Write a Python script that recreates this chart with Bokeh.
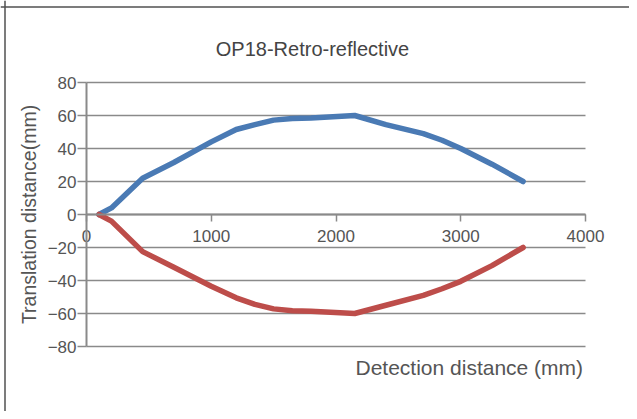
from bokeh.plotting import figure
from bokeh.models import Range1d, Label, FixedTicker, Span
from bokeh.embed import file_html
from bokeh.resources import INLINE

title_text = "OP18-Retro-reflective"
x_title = "Detection distance (mm)"
y_title = "Translation distance(mm)"

x_ticks = [0, 1000, 2000, 3000, 4000]
y_ticks = [-80, -60, -40, -20, 0, 20, 40, 60, 80]

dist = [100, 200, 450, 700, 1000, 1200, 1350, 1500, 1650, 1800, 2150, 2400, 2700, 2850, 3000, 3250, 3500]
upper = [0, 4, 22, 31.5, 44, 51.5, 54.5, 57.2, 58.2, 58.5, 60, 54.5, 49, 45, 40, 30.5, 20]
lower = [0, -4, -22.5, -32, -43.5, -50.5, -54.5, -57.2, -58.3, -58.7, -60, -55, -49, -45, -40.5, -31, -20]

FONT = "Liberation Sans"
TXT = "#555555"
GRID = "#8a8a8a"

# layout (pixels on the canvas)
W, H = 629, 411
OX, OY = 0, 0
PX0, PX1 = 86, 585                 # x = 0 .. 4000
PY_TOP, PY_BOT = 82, 346           # y = 80 .. -80
sx = (PX1 - PX0) / 4000.0
sy = (PY_BOT - PY_TOP) / 160.0
py0 = (PY_TOP + PY_BOT) / 2.0
x0 = (OX - PX0) / sx
x1 = (OX + W - PX0) / sx
y1 = (py0 - OY) / sy
y0 = (py0 - (OY + H)) / sy

p = figure(width=W, height=H, x_range=Range1d(x0, x1), y_range=Range1d(y0, y1),
           output_backend="svg", toolbar_location=None,
           min_border=0, min_border_left=0, min_border_right=0,
           min_border_top=0, min_border_bottom=0)
p.outline_line_color = None
p.background_fill_color = "white"
p.border_fill_color = "white"

p.xgrid.grid_line_color = None
yg = p.ygrid[0]
yg.ticker = FixedTicker(ticks=y_ticks)
yg.grid_line_color = GRID
yg.grid_line_width = 1.5
yg.cross_bounds = (0, 4000)

xa = p.xaxis[0]
xa.fixed_location = 0
xa.bounds = (0, 4000)
xa.ticker = FixedTicker(ticks=x_ticks)
xa.axis_line_color = GRID
xa.axis_line_width = 2
xa.major_tick_line_color = GRID
xa.major_tick_line_width = 1.5
xa.major_tick_in = 0
xa.major_tick_out = 7
xa.minor_tick_line_color = None
xa.major_label_standoff = 8
xa.major_label_text_font = FONT
xa.major_label_text_font_size = "17px"
xa.major_label_text_color = TXT

ya = p.yaxis[0]
ya.fixed_location = 0
ya.bounds = (-80, 80)
ya.ticker = FixedTicker(ticks=y_ticks)
ya.axis_line_color = GRID
ya.axis_line_width = 2
ya.major_tick_line_color = GRID
ya.major_tick_line_width = 1.5
ya.major_tick_in = 0
ya.major_tick_out = 9
ya.minor_tick_line_color = None
ya.major_label_standoff = 1
ya.major_label_text_font = FONT
ya.major_label_text_font_size = "17px"
ya.major_label_text_color = TXT
ya.major_label_overrides = {t: (("\u2212" + str(-t)) if t < 0 else str(t)) for t in y_ticks}
ya.axis_label = y_title
ya.axis_label_text_font = FONT
ya.axis_label_text_font_size = "19.5px"
ya.axis_label_text_font_style = "normal"
ya.axis_label_text_color = TXT
ya.axis_label_standoff = 5

p.line(dist, upper, line_color="#4a7ab4", line_width=5.5, line_join="round", line_cap="round")
p.line(dist, lower, line_color="#bd4d4a", line_width=5.5, line_join="round", line_cap="round")

p.add_layout(Label(x=(312 - PX0) / sx, y=(py0 - 48) / sy, text=title_text,
                   text_align="center", text_baseline="middle",
                   text_font=FONT, text_font_size="20px", text_color="#444444"))
p.add_layout(Label(x=(355 - PX0) / sx, y=(py0 - 367) / sy, text=x_title,
                   text_align="left", text_baseline="middle",
                   text_font=FONT, text_font_size="21px", text_color=TXT))

# outer box lines (top and left), like the reference's frame
p.add_layout(Span(location=(4.5 - PX0) / sx, dimension="height", line_color="#505050", line_width=1.5))
p.add_layout(Span(location=(py0 - 6.5) / sy, dimension="width", line_color="#505050", line_width=1.5))

open("out.html", "w").write(file_html(p, INLINE))
